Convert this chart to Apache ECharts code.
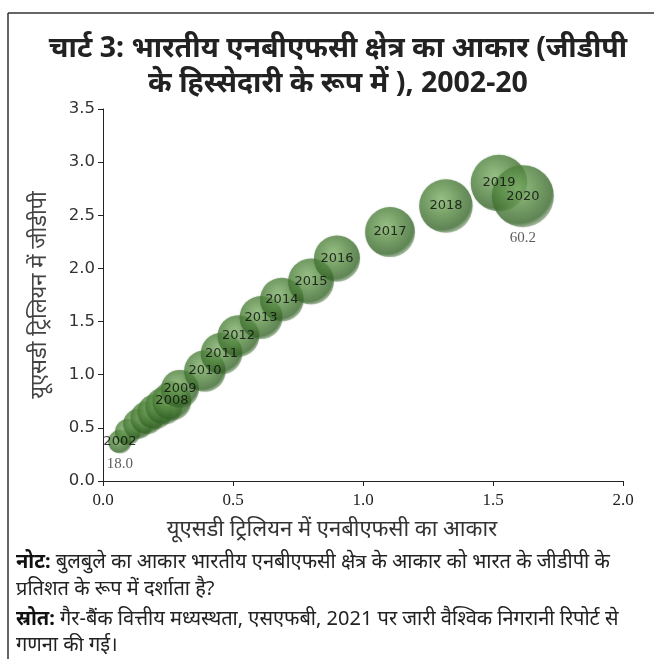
<!DOCTYPE html>
<html>
<head>
<meta charset="utf-8">
<script src="https://cdn.jsdelivr.net/npm/echarts@6/dist/echarts.min.js"></script>
<style>
  html, body { margin: 0; padding: 0; background: #fff; }
  #chart { width: 654px; height: 659px; }
</style>
</head>
<body>
<div id="chart"></div>
<script>
// NBFC sector size (USD trillion), GDP (USD trillion) and NBFC size as % of GDP
const years = ['2002', '2003', '2004', '2005', '2006', '2007', '2008', '2009', '2010', '2011',
               '2012', '2013', '2014', '2015', '2016', '2017', '2018', '2019', '2020'];
const nbfcSize = [0.065, 0.096, 0.135, 0.169, 0.200, 0.235, 0.265, 0.296, 0.392, 0.456,
                  0.521, 0.608, 0.688, 0.800, 0.900, 1.104, 1.319, 1.523, 1.615];
const gdp = [0.37, 0.461, 0.536, 0.593, 0.650, 0.706, 0.753, 0.866, 1.035, 1.200,
             1.364, 1.538, 1.707, 1.877, 2.093, 2.342, 2.587, 2.803, 2.680];
const shareOfGdp = [18.0, 20.8, 25.2, 28.5, 30.8, 33.3, 35.2, 34.2, 37.9, 38.0,
                    38.2, 39.5, 40.3, 42.7, 43.0, 47.1, 51.0, 54.3, 60.2];
const xTicks = ['0.0', '0.5', '1.0', '1.5', '2.0'];
const yTicks = ['0.0', '0.5', '1.0', '1.5', '2.0', '2.5', '3.0', '3.5'];
// years whose bubbles carry a year label, and those that also show the % of GDP
const labelledYears = ['2002', '2008', '2009', '2010', '2011', '2012', '2013', '2014',
                       '2015', '2016', '2017', '2018', '2019', '2020'];
const valueLabelYears = ['2002', '2020'];

const bubbleData = years.map((y, i) => [nbfcSize[i], gdp[i], shareOfGdp[i], y]);
const valueData = bubbleData.filter(d => valueLabelYears.includes(d[3]));

const bubbleDiameter = v => 2 * (3.4 + 0.458 * v[2]);

const sphere = {
  type: 'radial', x: 0.42, y: 0.38, r: 0.62,
  colorStops: [
    { offset: 0, color: 'rgba(135,185,112,0.93)' },
    { offset: 0.55, color: 'rgba(82,134,62,0.9)' },
    { offset: 0.9, color: 'rgba(50,98,36,0.87)' },
    { offset: 1, color: 'rgba(60,106,46,0.55)' }
  ]
};

const chart = echarts.init(document.getElementById('chart'), null, { renderer: 'canvas' });
const devFont = '"Noto Sans", "Noto Sans Devanagari", "Lohit Devanagari", sans-serif';

chart.setOption({
  animation: false,
  backgroundColor: '#fff',
  title: {
    text: 'चार्ट 3: भारतीय एनबीएफसी क्षेत्र का आकार (जीडीपी\nके हिस्सेदारी के रूप में ), 2002-20',
    left: 333, top: 26, textAlign: 'center',
    textStyle: { fontSize: 28.5, fontWeight: 'bold', color: '#222', fontFamily: devFont, lineHeight: 35 }
  },
  grid: { left: 103, right: 31, top: 109, bottom: 178 },
  xAxis: {
    type: 'value', min: 0, max: 2, interval: 0.5,
    name: 'यूएसडी ट्रिलियन में एनबीएफसी का आकार',
    nameLocation: 'middle', nameGap: 38,
    nameTextStyle: { fontSize: 22, color: '#333', fontFamily: devFont, padding: [0, 62, 0, 0] },
    axisLine: { show: true, lineStyle: { color: '#222', width: 1 } },
    axisTick: { show: true, length: 5, lineStyle: { color: '#222' } },
    splitLine: { show: false },
    axisLabel: {
      fontSize: 17, color: '#222', fontFamily: '"Liberation Serif", serif', margin: 11,
      formatter: (v) => xTicks[Math.round(v / 0.5)]
    }
  },
  yAxis: {
    type: 'value', min: 0, max: 3.5, interval: 0.5,
    name: 'यूएसडी ट्रिलियन में जीडीपी',
    nameLocation: 'middle', nameGap: 52, nameRotate: 90,
    nameTextStyle: { fontSize: 22, color: '#444', fontFamily: devFont },
    axisLine: { show: true, lineStyle: { color: '#222', width: 1 } },
    axisTick: { show: true, length: 5, lineStyle: { color: '#222' } },
    splitLine: { show: false },
    axisLabel: {
      fontSize: 16.5, color: '#333', fontFamily: '"DejaVu Sans", sans-serif', margin: 8,
      formatter: (v) => yTicks[Math.round(v / 0.5)]
    }
  },
  series: [
    {
      type: 'scatter',
      data: bubbleData,
      symbolSize: bubbleDiameter,
      itemStyle: { color: sphere, shadowBlur: 2, shadowColor: 'rgba(60,100,50,0.4)' },
      label: {
        show: true, position: 'inside',
        formatter: (p) => labelledYears.includes(p.data[3]) ? p.data[3] : '',
        color: '#0a0a0a', fontSize: 13, fontFamily: '"DejaVu Sans", sans-serif'
      },
      labelLayout: { hideOverlap: false },
      emphasis: { disabled: true }
    },
    {
      type: 'scatter',
      data: valueData,
      symbolSize: bubbleDiameter,
      itemStyle: { color: 'rgba(0,0,0,0)' },
      label: {
        show: true, position: 'bottom', distance: 3,
        formatter: (p) => p.data[2].toFixed(1),
        color: '#333', fontSize: 15, fontFamily: '"Liberation Serif", serif'
      },
      labelLayout: { hideOverlap: false },
      z: 5,
      emphasis: { disabled: true }
    }
  ],
  graphic: [
    { type: 'line', shape: { x1: 8, y1: 13, x2: 654, y2: 13 }, style: { stroke: '#333', lineWidth: 1.5 } },
    { type: 'line', shape: { x1: 8, y1: 13, x2: 8, y2: 659 }, style: { stroke: '#333', lineWidth: 1.5 } },
    {
      type: 'text', left: 16, top: 549,
      style: {
        text: '{b|नोट:} बुलबुले का आकार भारतीय एनबीएफसी क्षेत्र के आकार को भारत के जीडीपी के\nप्रतिशत के रूप में दर्शाता है?',
        font: '20px ' + devFont, fill: '#222', lineHeight: 27,
        rich: { b: { fontWeight: 'bold', fontSize: 20, fontFamily: devFont, fill: '#111' } }
      }
    },
    {
      type: 'text', left: 16, top: 606,
      style: {
        text: '{b|स्रोत:} गैर-बैंक वित्तीय मध्यस्थता, एसएफबी, 2021 पर जारी वैश्विक निगरानी रिपोर्ट से\nगणना की गई।',
        font: '20px ' + devFont, fill: '#222', lineHeight: 26,
        rich: { b: { fontWeight: 'bold', fontSize: 20, fontFamily: devFont, fill: '#111' } }
      }
    }
  ]
});
</script>
</body>
</html>
